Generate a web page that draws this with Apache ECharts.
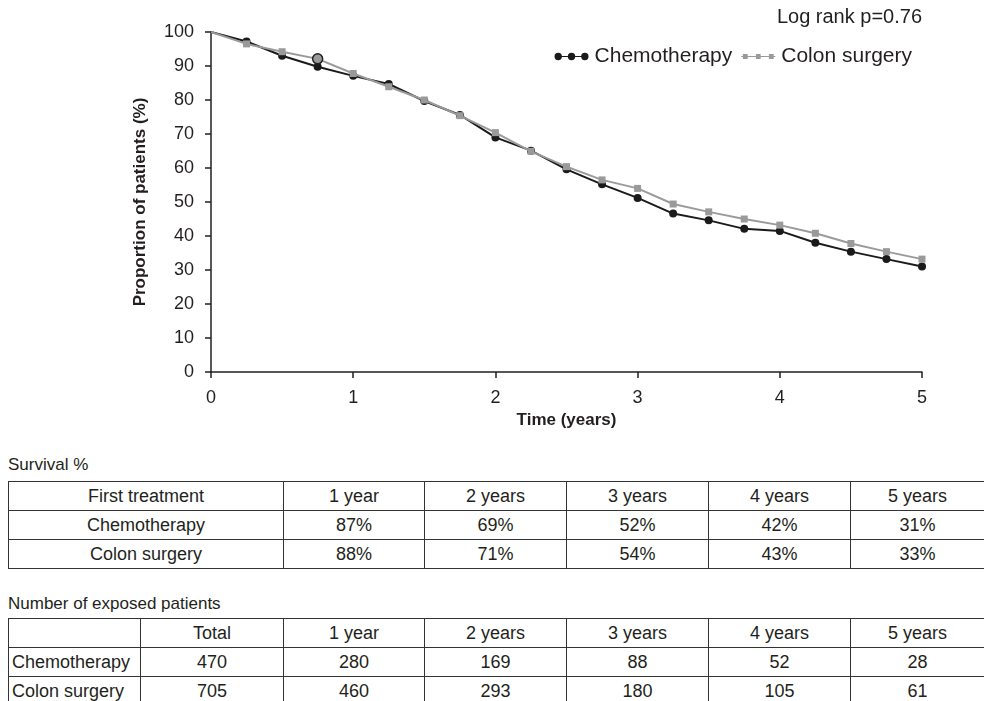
<!DOCTYPE html>
<html>
<head>
<meta charset="utf-8">
<script src="https://cdn.jsdelivr.net/npm/echarts@6/dist/echarts.min.js"></script>
<style>
  html, body { margin: 0; padding: 0; background: #fff; }
  #wrap { position: relative; width: 984px; height: 701px; overflow: hidden; font-family: "Liberation Sans", Arial, sans-serif; color: #231f20; }
  #chart { position: absolute; left: 0; top: 0; width: 984px; height: 440px; }
  .cap { position: absolute; left: 8px; font-size: 17px; line-height: 20px; }
  table { position: absolute; left: 8px; border-collapse: collapse; table-layout: fixed; font-size: 18px; }
  td { border: 1px solid #333; height: 28px; padding: 0; text-align: center; white-space: nowrap; overflow: hidden; }
  td.lab { text-align: left; padding-left: 3px; }
</style>
</head>
<body>
<div id="wrap">
  <div id="chart"></div>
  <div class="cap" style="top:455px">Survival %</div>
  <table id="t1" style="top:481px"></table>
  <div class="cap" style="top:594px">Number of exposed patients</div>
  <table id="t2" style="top:618px"></table>
</div>
<script>
// ---- Data ----
var times = [0, 0.25, 0.5, 0.75, 1, 1.25, 1.5, 1.75, 2, 2.25, 2.5, 2.75, 3, 3.25, 3.5, 3.75, 4, 4.25, 4.5, 4.75, 5];
var chemotherapy = [100, 97.2, 93.0, 89.8, 87.1, 84.7, 79.7, 75.6, 69.0, 65.1, 59.6, 55.2, 51.2, 46.6, 44.6, 42.1, 41.5, 38.0, 35.4, 33.2, 31.0];
var colonSurgery = [100, 96.5, 94.2, 92.1, 87.8, 83.9, 80.0, 75.4, 70.4, 64.9, 60.4, 56.5, 54.0, 49.4, 47.1, 45.0, 43.2, 40.8, 37.8, 35.4, 33.2];
var xTicks = [0, 1, 2, 3, 4, 5];
var yTicks = [0, 10, 20, 30, 40, 50, 60, 70, 80, 90, 100];

var survivalHeader = ['First treatment', '1 year', '2 years', '3 years', '4 years', '5 years'];
var survivalChemo = ['Chemotherapy', '87%', '69%', '52%', '42%', '31%'];
var survivalColon = ['Colon surgery', '88%', '71%', '54%', '43%', '33%'];

var exposedHeader = ['', 'Total', '1 year', '2 years', '3 years', '4 years', '5 years'];
var exposedChemo = ['Chemotherapy', '470', '280', '169', '88', '52', '28'];
var exposedColon = ['Colon surgery', '705', '460', '293', '180', '105', '61'];

var pValueText = 'Log rank p=0.76';

// ---- Tables ----
function buildTable(id, rows, widths, labelFirst) {
  var t = document.getElementById(id);
  var cg = document.createElement('colgroup');
  widths.forEach(function (w) { var c = document.createElement('col'); c.style.width = w + 'px'; cg.appendChild(c); });
  t.appendChild(cg);
  var total = widths.reduce(function (a, b) { return a + b; }, 0);
  t.style.width = total + 'px';
  rows.forEach(function (r, ri) {
    var tr = document.createElement('tr');
    r.forEach(function (v, ci) {
      var td = document.createElement('td');
      td.textContent = v;
      if (labelFirst && ci === 0 && ri > 0) td.className = 'lab';
      tr.appendChild(td);
    });
    t.appendChild(tr);
  });
}
buildTable('t1', [survivalHeader, survivalChemo, survivalColon], [275, 141, 142, 142, 142, 134], false);
buildTable('t2', [exposedHeader, exposedChemo, exposedColon], [132, 143, 141, 142, 142, 142, 134], true);

// ---- Chart ----
var chemoData = times.map(function (t, i) {
  var d = { value: [t, chemotherapy[i]] };
  if (i === 0) d.symbol = 'none';
  return d;
});
var colonData = times.map(function (t, i) {
  var d = { value: [t, colonSurgery[i]] };
  if (i === 0) d.symbol = 'none';
  if (i === 3) { d.symbol = 'circle'; d.symbolSize = 10; d.itemStyle = { color: '#9a9a9a', borderColor: '#222', borderWidth: 1.5 }; }
  return d;
});

var chemoIcon = 'path://M0.4,4 A3.6,3.6 0 1 1 7.6,4 A3.6,3.6 0 1 1 0.4,4 Z M13.4,4 A3.6,3.6 0 1 1 20.6,4 A3.6,3.6 0 1 1 13.4,4 Z M26.4,4 A3.6,3.6 0 1 1 33.6,4 A3.6,3.6 0 1 1 26.4,4 Z M7,3.4 H14 V4.6 H7 Z M20,3.4 H27 V4.6 H20 Z';
var colonIcon = 'path://M0,0.4 H0.01 V0.41 H0 Z M0,3.4 H34 V4.6 H0 Z M1.6,1.6 H6.4 V6.4 H1.6 Z M14.6,1.6 H19.4 V6.4 H14.6 Z M27.6,1.6 H32.4 V6.4 H27.6 Z M33.99,7.59 H34 V7.6 H33.99 Z';

var FONT = '"Liberation Sans", Arial, sans-serif';
var chart = echarts.init(document.getElementById('chart'), null, { renderer: 'canvas' });
chart.setOption({
  animation: false,
  textStyle: { fontFamily: FONT, color: '#231f20' },
  grid: { left: 211, right: 62, top: 32, height: 340, containLabel: false },
  graphic: [{
    type: 'text', right: 62, top: 7,
    style: { text: pValueText, font: '20px ' + FONT, fill: '#231f20' }
  }],
  legend: {
    right: 67, top: 41,
    itemWidth: 34, itemHeight: 8, itemGap: 9,
    textStyle: { fontSize: 21, color: '#231f20', fontFamily: FONT, padding: [0, 0, 0, 1] },
    data: [
      { name: 'Chemotherapy', icon: chemoIcon },
      { name: 'Colon surgery', icon: colonIcon }
    ]
  },
  xAxis: {
    type: 'value', min: 0, max: 5, interval: 1,
    name: 'Time (years)', nameLocation: 'middle', nameGap: 40,
    nameTextStyle: { fontSize: 17, fontWeight: 'bold', color: '#231f20', fontFamily: FONT },
    axisLine: { show: true, onZero: false, lineStyle: { color: '#231f20', width: 1.5 } },
    axisTick: { show: true, inside: false, length: 6, lineStyle: { color: '#231f20', width: 1.5 } },
    axisLabel: { fontSize: 18, color: '#231f20', margin: 17, formatter: function (v) { return xTicks.indexOf(v) >= 0 ? String(v) : ''; } },
    splitLine: { show: false }
  },
  yAxis: {
    type: 'value', min: 0, max: 100, interval: 10,
    name: 'Proportion of patients (%)', nameLocation: 'middle', nameGap: 62, nameRotate: 90,
    nameTextStyle: { fontSize: 17, fontWeight: 'bold', color: '#231f20', fontFamily: FONT },
    axisLine: { show: true, onZero: false, lineStyle: { color: '#231f20', width: 1.5 } },
    axisTick: { show: true, inside: false, length: 6, lineStyle: { color: '#231f20', width: 1.5 } },
    axisLabel: { fontSize: 18, color: '#231f20', margin: 17, formatter: function (v) { return yTicks.indexOf(v) >= 0 ? String(v) : ''; } },
    splitLine: { show: false }
  },
  series: [
    {
      name: 'Chemotherapy', type: 'line', data: chemoData, z: 2,
      symbol: 'circle', symbolSize: 8, showAllSymbol: true,
      itemStyle: { color: '#1a1a1a' },
      lineStyle: { color: '#1a1a1a', width: 2 }
    },
    {
      name: 'Colon surgery', type: 'line', data: colonData, z: 3,
      symbol: 'rect', symbolSize: 7, showAllSymbol: true,
      itemStyle: { color: '#9a9a9a' },
      lineStyle: { color: '#9a9a9a', width: 2 }
    }
  ]
});
</script>
</body>
</html>
